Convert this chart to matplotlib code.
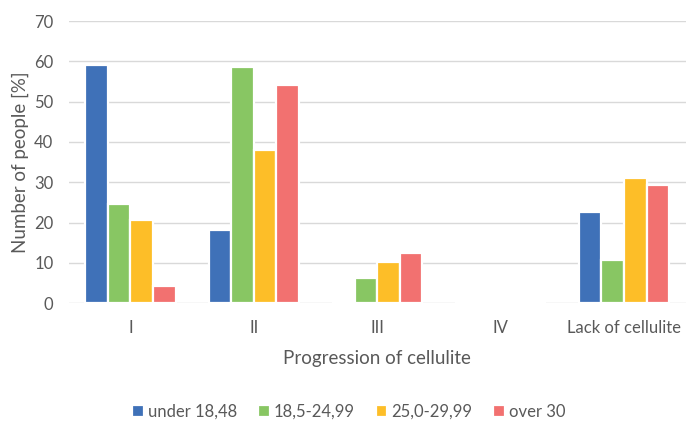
import numpy as np
import matplotlib
matplotlib.use("Agg")
import matplotlib.pyplot as plt

plt.rcParams['font.family'] = ['Lato', 'DejaVu Sans']

categories = ["I", "II", "III", "IV", "Lack of cellulite"]
series_names = ["under 18,48", "18,5-24,99", "25,0-29,99", "over 30"]
under_18 = [59.1, 18.2, 0, 0, 22.7]
normal = [24.6, 58.5, 6.2, 0, 10.8]
overweight = [20.7, 37.9, 10.3, 0, 31.0]
obese = [4.2, 54.1, 12.5, 0, 29.2]
y_ticks = [0, 10, 20, 30, 40, 50, 60, 70]

series = [under_18, normal, overweight, obese]
colors = ["#3F71B8", "#88C663", "#FDBE28", "#F27170"]
text_color = "#595959"

fig = plt.figure(figsize=(6.87, 4.21), dpi=100)
ax = fig.add_axes([0.100, 0.280, 0.898, 0.670])

x = np.arange(len(categories))
pitch = 0.183
for i, (vals, col, name) in enumerate(zip(series, colors, series_names)):
    offs = (i - 1.5) * pitch
    ax.bar(x + offs, vals, width=pitch, color=col, edgecolor="white",
           linewidth=1.6, label=name, zorder=3)

ax.set_xlim(-0.5, len(categories) - 0.5)
ax.set_ylim(0, 70)
ax.set_yticks(y_ticks)
ax.set_xticks(x)
ax.set_xticklabels(categories)
ax.grid(axis="y", color="#D9D9D9", linewidth=1.0, zorder=0)
for s in ax.spines.values():
    s.set_visible(False)
ax.tick_params(axis="both", length=0, colors=text_color, labelsize=12)
ax.tick_params(axis="x", pad=12.5)
ax.tick_params(axis="y", pad=11)

ax.set_xlabel("Progression of cellulite", color=text_color, fontsize=13.5, labelpad=9.5)
ax.set_ylabel("Number of people [%]", color=text_color, fontsize=13.5, labelpad=3.5)

leg = fig.legend(loc="center", bbox_to_anchor=(0.508, 0.022), ncol=4, frameon=False,
                 fontsize=12, handlelength=0.7, handleheight=0.7,
                 handletextpad=0.25, columnspacing=1.25)
for t in leg.get_texts():
    t.set_color(text_color)

fig.savefig("out.png", dpi=100)
